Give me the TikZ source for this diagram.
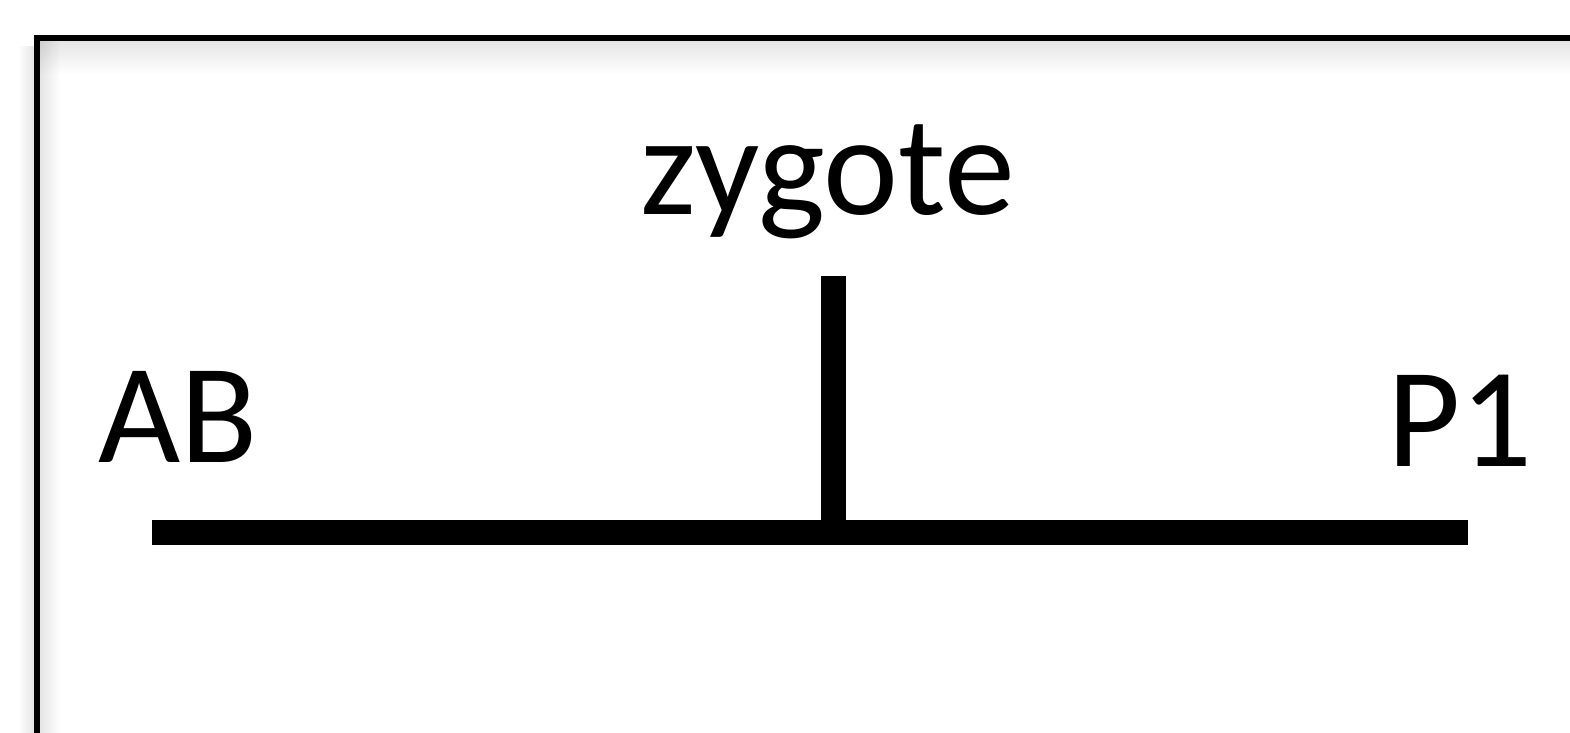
\documentclass[tikz,border=0pt]{standalone}
\usepackage{fontspec}
\setmainfont{Carlito}
\usetikzlibrary{fadings}
\tikzfading[name=fadeRight, left color=transparent!0, right color=transparent!100]
\tikzfading[name=fadeLeft, left color=transparent!100, right color=transparent!0]
\tikzfading[name=fadeDown, top color=transparent!0, bottom color=transparent!100]
\begin{document}
\begin{tikzpicture}[x=0.5pt,y=-0.5pt,
  framestroke/.style={line width=3pt,line join=miter},
  bar/.style={line width=12.5pt,line cap=butt},
  softshade/.style={fill=black,fill opacity=0.1},
  label/.style={inner sep=0pt,anchor=base,font=\fontsize{71}{80}\selectfont}]
\useasboundingbox (0,0) rectangle (1570,733);
% soft shadows along the frame
\begin{scope}
\clip (0,0) rectangle (1570,733);
\fill[softshade,path fading=fadeLeft] (18,46) rectangle (34,760);
\fill[softshade,path fading=fadeRight] (40,41) rectangle (60,760);
\fill[softshade,path fading=fadeDown] (40,41) rectangle (1640,74);
\end{scope}
% frame
\coordinate (fbl) at (37,740);
\coordinate (ftl) at (37,38);
\coordinate (ftr) at (1580,38);
\draw[framestroke] (fbl) -- (ftl) -- (ftr);
% labels
\node[label] (zyg) at (828,214) {zygote};
\node[label] (ab) at (178,462) {AB};
\node[label] (p1) at (1460,466) {P1};
% division bars
\coordinate (hl) at (152,532);
\coordinate (hr) at (1468,532);
\coordinate (vt) at (833.5,276);
\coordinate (vb) at (833.5,532);
\draw[bar] (hl) -- (hr);
\draw[bar] (vt) -- (vb);
\end{tikzpicture}
\end{document}
